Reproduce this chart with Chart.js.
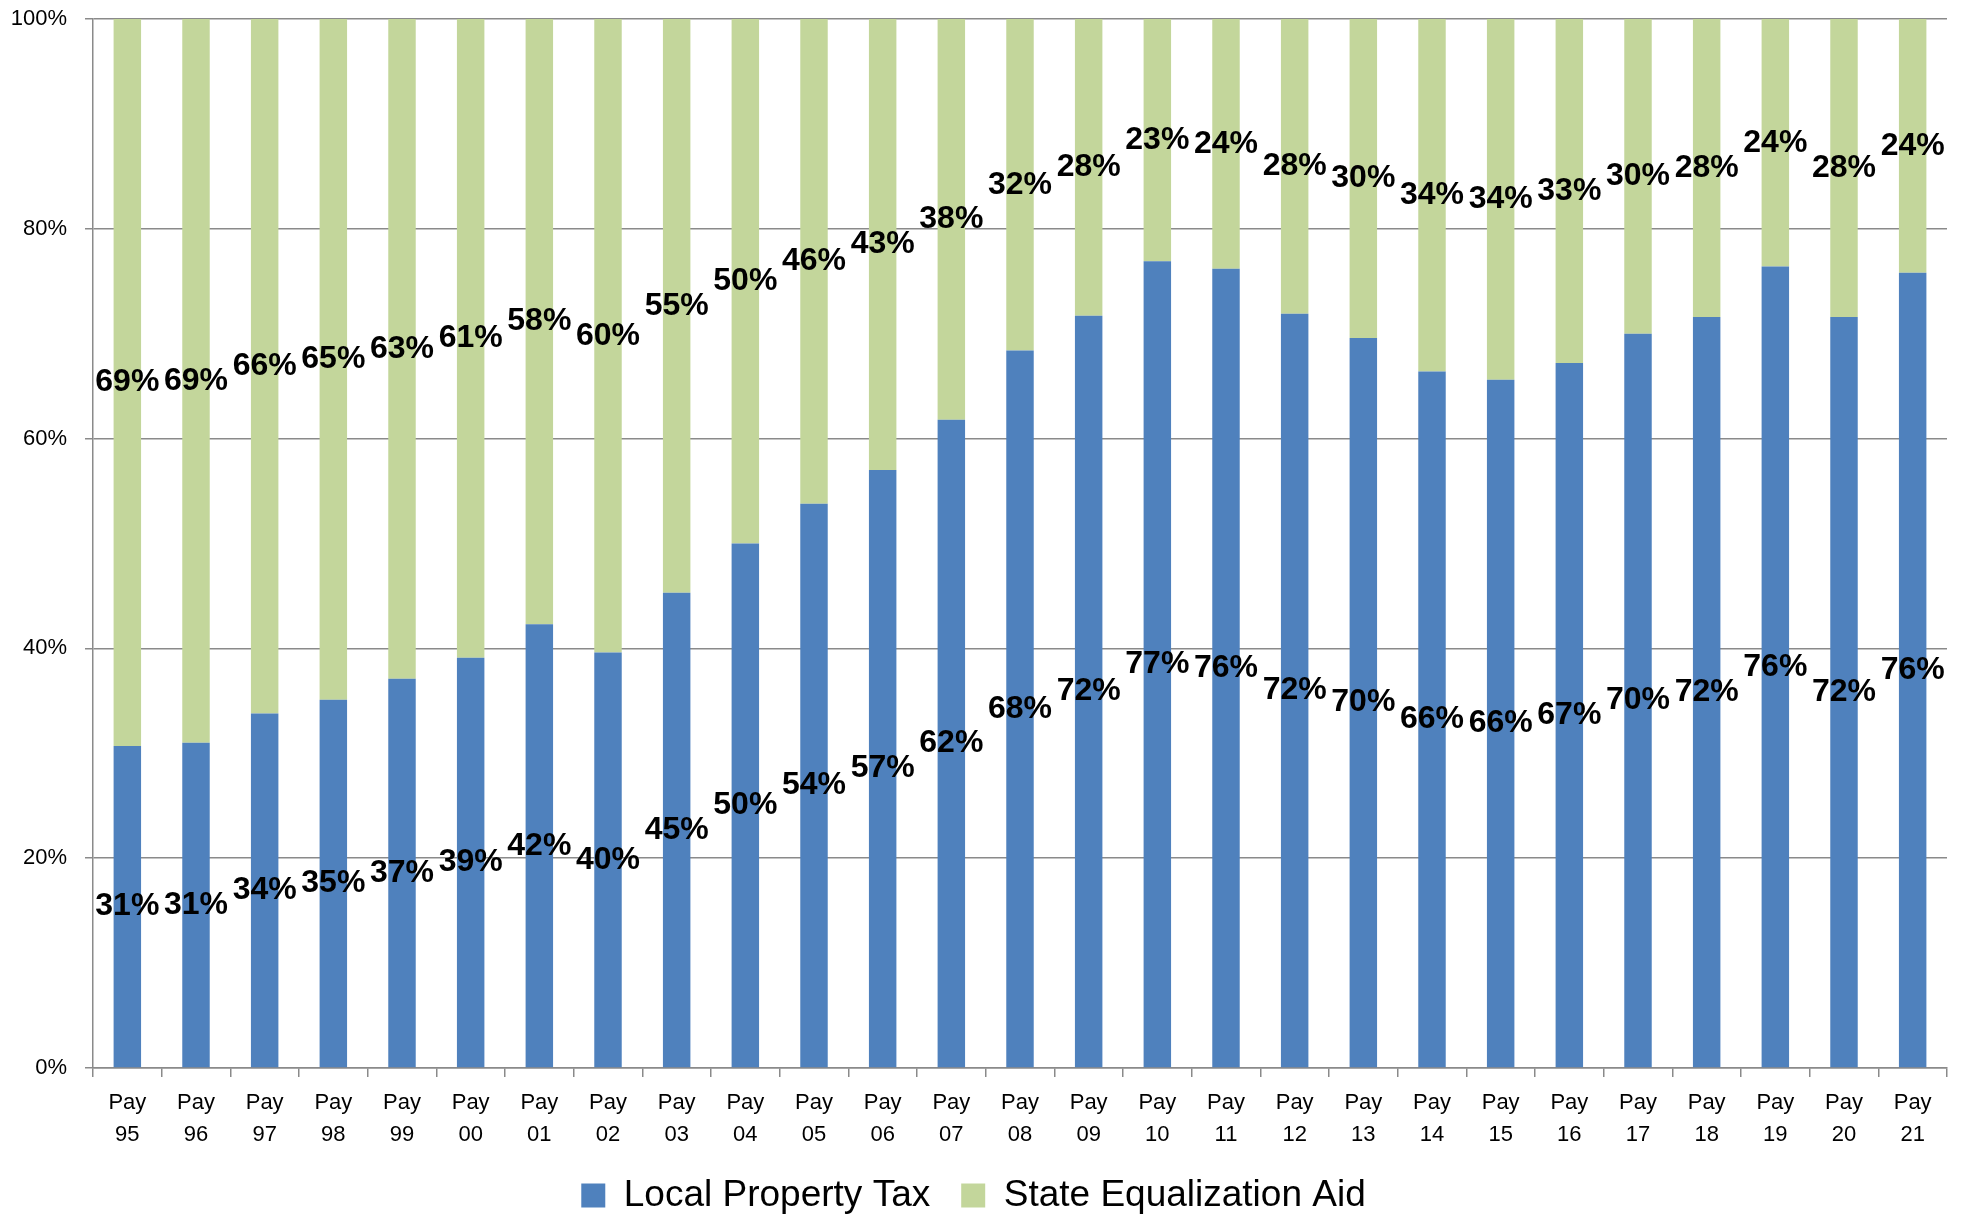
<!DOCTYPE html>
<html>
<head>
<meta charset="utf-8">
<script src="https://cdn.jsdelivr.net/npm/chart.js@4/dist/chart.umd.min.js"></script>
<style>
  html, body { margin: 0; padding: 0; background: #fff; overflow: hidden; }
  #wrap { width: 1965px; height: 1217px; overflow: hidden; }
  canvas { display: block; }
</style>
</head>
<body>
<div id="wrap"><canvas id="c" width="1965" height="1224"></canvas></div>
<script>
const categories = [
  ['Pay','95'],['Pay','96'],['Pay','97'],['Pay','98'],['Pay','99'],['Pay','00'],['Pay','01'],
  ['Pay','02'],['Pay','03'],['Pay','04'],['Pay','05'],['Pay','06'],['Pay','07'],['Pay','08'],
  ['Pay','09'],['Pay','10'],['Pay','11'],['Pay','12'],['Pay','13'],['Pay','14'],['Pay','15'],
  ['Pay','16'],['Pay','17'],['Pay','18'],['Pay','19'],['Pay','20'],['Pay','21']
];
const localPropertyTax = [30.7, 31.0, 33.8, 35.1, 37.1, 39.1, 42.3, 39.6, 45.3, 50.0, 53.8, 57.0, 61.8, 68.4,
  71.7, 76.9, 76.2, 71.9, 69.6, 66.4, 65.6, 67.2, 70.0, 71.6, 76.4, 71.6, 75.8];
const stateEqualizationAid = [69.3, 69.0, 66.2, 64.9, 62.9, 60.9, 57.7, 60.4, 54.7, 50.0, 46.2, 43.0, 38.2, 31.6,
  28.3, 23.1, 23.8, 28.1, 30.4, 33.6, 34.4, 32.8, 30.0, 28.4, 23.6, 28.4, 24.2];
const yTicks = [0, 20, 40, 60, 80, 100];

const FONT = "'Liberation Sans', Arial, sans-serif";
Chart.defaults.font.family = FONT;
Chart.defaults.color = '#000';

const barLabels = {
  id: 'barLabels',
  afterDatasetsDraw(chart) {
    const ctx = chart.ctx;
    ctx.save();
    ctx.font = "bold 32px " + FONT;
    ctx.fillStyle = '#000';
    ctx.textAlign = 'center';
    ctx.textBaseline = 'middle';
    chart.data.datasets.forEach((ds, di) => {
      const meta = chart.getDatasetMeta(di);
      meta.data.forEach((el, i) => {
        const p = el.getProps(['x', 'y', 'base'], true);
        ctx.fillText(Math.round(ds.data[i]) + '%', p.x, (p.y + p.base) / 2);
      });
    });
    ctx.restore();
  }
};

const GRID = '#8a8a8a';

new Chart(document.getElementById('c'), {
  type: 'bar',
  data: {
    labels: categories,
    datasets: [
      { label: 'Local Property Tax', data: localPropertyTax, backgroundColor: '#4F81BD', borderWidth: 0,
        barPercentage: 0.4, categoryPercentage: 1 },
      { label: 'State Equalization Aid', data: stateEqualizationAid, backgroundColor: '#C3D69B', borderWidth: 0,
        barPercentage: 0.4, categoryPercentage: 1 }
    ]
  },
  options: {
    responsive: false,
    animation: false,
    devicePixelRatio: 1,
    layout: { padding: { left: 0, right: 18, top: 19, bottom: 0 } },
    plugins: {
      legend: {
        position: 'bottom',
        labels: { font: { size: 37 }, color: '#000', boxWidth: 24, boxHeight: 24, padding: 31 }
      },
      tooltip: { enabled: false }
    },
    scales: {
      x: {
        stacked: true,
        grid: { offset: true, drawOnChartArea: false, drawTicks: true, tickLength: 9, color: GRID, lineWidth: 1.5 },
        border: { display: true, color: GRID, width: 1.5 },
        ticks: { autoSkip: false, maxRotation: 0, minRotation: 0, padding: 10, color: '#000',
          font: { size: 22, lineHeight: 1.45 } },
        afterFit(scale) { scale.height = 78; }
      },
      y: {
        stacked: true,
        min: 0, max: 100,
        afterBuildTicks(scale) { scale.ticks = yTicks.map(v => ({ value: v })); },
        grid: { color: GRID, lineWidth: 1.5, drawTicks: true, tickLength: 8 },
        border: { display: true, color: GRID, width: 1.5 },
        ticks: { padding: 18, color: '#000', font: { size: 22 }, callback: v => v + '%' },
        afterFit(scale) { scale.width = 93; scale.paddingTop = 0; scale.paddingBottom = 0; }
      }
    }
  },
  plugins: [barLabels]
});
</script>
</body>
</html>
